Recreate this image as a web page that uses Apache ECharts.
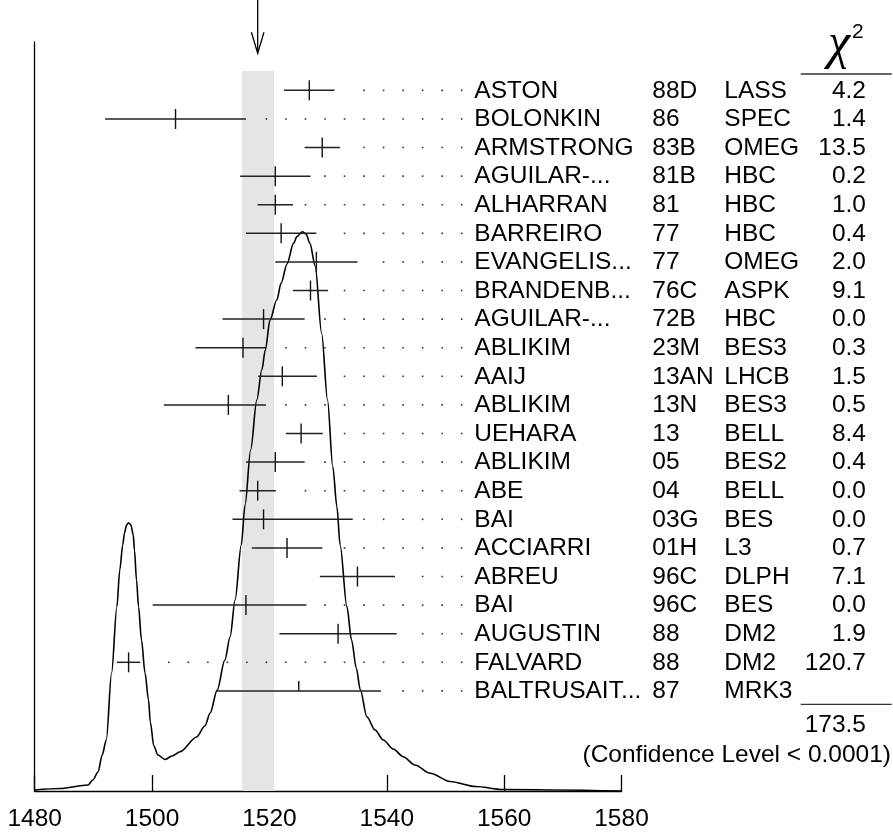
<!DOCTYPE html>
<html><head><meta charset="utf-8">
<script src="https://cdn.jsdelivr.net/npm/echarts@6/dist/echarts.min.js"></script>
<style>html,body{margin:0;padding:0;background:#fff}#main{width:893px;height:832px}</style>
</head><body><div id="main"></div>
<script>
// ---------- data ----------
const names = ['ASTON','BOLONKIN','ARMSTRONG','AGUILAR-...','ALHARRAN','BARREIRO','EVANGELIS...','BRANDENB...','AGUILAR-...','ABLIKIM','AAIJ','ABLIKIM','UEHARA','ABLIKIM','ABE','BAI','ACCIARRI','ABREU','BAI','AUGUSTIN','FALVARD','BALTRUSAIT...'];
const years = ['88D','86','83B','81B','81','77','77','76C','72B','23M','13AN','13N','13','05','04','03G','01H','96C','96C','88','88','87'];
const experiments = ['LASS','SPEC','OMEG','HBC','HBC','HBC','OMEG','ASPK','HBC','BES3','LHCB','BES3','BELL','BES2','BELL','BES','L3','DLPH','BES','DM2','DM2','MRK3'];
const chi2 = ['4.2','1.4','13.5','0.2','1.0','0.4','2.0','9.1','0.0','0.3','1.5','0.5','8.4','0.4','0.0','0.0','0.7','7.1','0.0','1.9','120.7',''];
const centers  = [1526.8,1504.0,1529.0,1521.0,1521.0,1522.0,1528.0,1527.0,1519.0,1515.5,1522.2,1513.0,1525.4,1521.0,1518.0,1519.0,1523.0,1535.0,1516.0,1531.7,1496.0,1525.0];
const errMinus = [4.3,12.0,3.0,6.0,3.0,6.0,7.0,3.0,7.0,8.1,4.1,11.0,2.6,5.0,3.1,5.3,6.0,6.4,15.9,10.0,2.0,14.0];
const errPlus  = [4.3,12.0,3.0,6.0,3.0,6.0,7.0,3.0,7.0,3.9,5.9,6.4,3.7,5.0,3.1,15.2,6.0,6.4,10.3,10.0,2.0,14.0];
const usedInFit = [true,true,true,true,true,true,true,true,true,true,true,true,true,true,true,true,true,true,true,true,true,false];
const chi2Total = '173.5';
const confidenceText = '(Confidence Level < 0.0001)';
const average = 1518.0;
const bandLow = 1515.3;
const bandHigh = 1520.8;
const xMin = 1480, xMax = 1580, xStep = 20;
// ideogram curve (mass, relative height)
const curveMass = [1480.0,1484.3,1489.1,1489.9,1490.8,1491.5,1492.2,1493.1,1494.0,1494.5,1495.0,1495.3,1495.65,1496.0,1496.4,1496.8,1497.0,1497.35,1497.7,1498.2,1498.8,1499.4,1499.7,1500.3,1501.0,1502.2,1503.4,1504.8,1507.6,1509.0,1509.9,1511.1,1512.4,1513.3,1514.15,1515.2,1515.85,1516.8,1517.85,1518.7,1519.3,1520.1,1521.25,1522.0,1523.0,1524.1,1524.7,1525.6,1526.25,1526.9,1527.8,1528.9,1529.9,1530.8,1531.5,1532.05,1533.2,1534.0,1534.8,1535.5,1536.6,1538.0,1539.4,1541.1,1542.8,1544.8,1547.4,1550.8,1555.1,1559.8,1580.0];
const curveHeight = [0.13,0.33,0.8,1.47,2.54,4.81,6.81,15.75,24.57,29.5,32.84,34.45,35.51,35.82,35.51,34.18,32.18,28.17,24.57,20.16,15.75,12.15,9.21,6.01,4.81,4.21,4.67,5.25,7.21,8.68,10.41,13.48,17.49,20.56,25.5,32.84,38.18,45.53,52.2,56.21,58.88,62.88,65.55,67.82,70.36,73.12,74.03,74.67,74.37,73.12,70.09,61.11,52.2,43.3,37.96,32.84,24.61,20.16,16.42,13.48,9.92,8.14,6.81,5.61,4.58,3.47,2.36,1.27,0.6,0.2,0.0];

// ---------- layout constants ----------
const FONT = '"Liberation Sans", Arial, Helvetica, sans-serif';
const FS = 24.5;
const NAME_X = 474.3, YEAR_X = 652.3, EXP_X = 724.3, CHI_RIGHT = 866;
const DOT_LAST = 461.7, DOT_STEP = 19.53, DOT_GAP = 11;
const ROW_MIN = -1.69, ROW_MAX = 24.5, BAND_TOP_ROW = -0.675;

const chart = echarts.init(document.getElementById('main'), null, {renderer: 'canvas'});

const rowData = names.map((n, i) => [centers[i], i, centers[i] - errMinus[i], centers[i] + errPlus[i]]);

function renderRow(params, api) {
  const i = params.dataIndex;
  const c = api.coord([api.value(0), api.value(1)]);
  const l = api.coord([api.value(2), api.value(1)]);
  const r = api.coord([api.value(3), api.value(1)]);
  const y = c[1];
  const kids = [];
  kids.push({type: 'line', shape: {x1: l[0], y1: y, x2: r[0], y2: y}, style: {stroke: '#222', lineWidth: 1.5}});
  kids.push({type: 'line', shape: {x1: c[0], y1: y - 10, x2: c[0], y2: usedInFit[i] ? y + 10 : y}, style: {stroke: '#111', lineWidth: 1.4}});
  for (let x = DOT_LAST; x > r[0] + DOT_GAP; x -= DOT_STEP) {
    kids.push({type: 'rect', shape: {x: x - 0.8, y: y - 0.8, width: 1.6, height: 1.6}, style: {fill: '#333'}});
  }
  const txt = (s, x, align) => ({type: 'text', style: {text: s, x: x, y: y + 0.5, fill: '#000', font: FS + 'px ' + FONT, align: align, verticalAlign: 'middle', textAlign: align, textVerticalAlign: 'middle'}});
  kids.push(txt(names[i], NAME_X, 'left'));
  kids.push(txt(years[i], YEAR_X, 'left'));
  kids.push(txt(experiments[i], EXP_X, 'left'));
  if (chi2[i]) kids.push(txt(chi2[i], CHI_RIGHT, 'right'));
  return {type: 'group', children: kids};
}

function renderBand(params, api) {
  const p1 = api.coord([api.value(0), BAND_TOP_ROW]);
  const p2 = api.coord([api.value(1), ROW_MAX]);
  return {type: 'rect', shape: {x: p1[0], y: p1[1], width: p2[0] - p1[0], height: p2[1] - p1[1]}, style: {fill: '#e5e5e5'}};
}

function renderArrow(params, api) {
  const p = api.coord([api.value(0), 0]);
  const x = p[0], top = params.coordSys.y - 42, tip = params.coordSys.y + 11.3;
  return {type: 'group', children: [
    {type: 'line', shape: {x1: x, y1: top, x2: x, y2: tip}, style: {stroke: '#000', lineWidth: 1.3}},
    {type: 'polyline', shape: {points: [[x - 6.3, tip - 21], [x, tip], [x + 6.3, tip - 21]]}, style: {stroke: '#000', lineWidth: 1.3, fill: null}}
  ]};
}

const option = {
  animation: false,
  backgroundColor: '#fff',
  grid: {left: 34.7, right: 271.5, top: 42, bottom: 41, containLabel: false},
  xAxis: {
    type: 'value', min: xMin, max: xMax, interval: xStep,
    axisLine: {show: true, onZero: false, lineStyle: {color: '#000', width: 1.3}},
    axisTick: {show: true, inside: true, length: 16, lineStyle: {color: '#000', width: 1.3}},
    axisLabel: {show: true, color: '#000', fontSize: FS, fontFamily: FONT, margin: 16, formatter: v => String(v)},
    splitLine: {show: false}
  },
  yAxis: [
    {type: 'value', inverse: true, min: ROW_MIN, max: ROW_MAX, show: false},
    {type: 'value', min: 0, max: 100, position: 'left',
     axisLine: {show: true, onZero: false, lineStyle: {color: '#000', width: 1.3}},
     axisTick: {show: false}, axisLabel: {show: false}, splitLine: {show: false}}
  ],
  series: [
    {type: 'custom', name: 'band', xAxisIndex: 0, yAxisIndex: 0, z: 1, clip: false,
     renderItem: renderBand, data: [[bandLow, bandHigh]], encode: {x: [0, 1]}},
    {type: 'line', name: 'ideogram', xAxisIndex: 0, yAxisIndex: 1, z: 2, showSymbol: false,
     smooth: 0.3, smoothMonotone: 'x',
     lineStyle: {color: '#000', width: 1.6},
     data: curveMass.map((m, i) => [m, curveHeight[i]])},
    {type: 'custom', name: 'measurements', xAxisIndex: 0, yAxisIndex: 0, z: 3, clip: false,
     renderItem: renderRow, data: rowData, encode: {x: [0, 2, 3], y: 1}},
    {type: 'custom', name: 'average', xAxisIndex: 0, yAxisIndex: 0, z: 3, clip: false,
     renderItem: renderArrow, data: [[average, 0]], encode: {x: 0}}
  ],
  graphic: [
    {type: 'text', left: 828, top: 20, style: {text: 'χ', font: 'italic 50px "Liberation Serif", serif', fill: '#000'}},
    {type: 'text', left: 852, top: 22, style: {text: '2', font: '21px ' + FONT, fill: '#000'}},
    {type: 'line', shape: {x1: 800.7, y1: 74, x2: 891.7, y2: 74}, style: {stroke: '#333', lineWidth: 1.3}},
    {type: 'line', shape: {x1: 800.7, y1: 704.3, x2: 891.7, y2: 704.3}, style: {stroke: '#333', lineWidth: 1.3}},
    {type: 'text', right: 893 - CHI_RIGHT, top: 713, style: {text: chi2Total, font: FS + 'px ' + FONT, fill: '#000'}},
    {type: 'text', right: 2, top: 743, style: {text: confidenceText, font: FS + 'px ' + FONT, fill: '#000'}}
  ]
};
chart.setOption(option);
</script></body></html>
